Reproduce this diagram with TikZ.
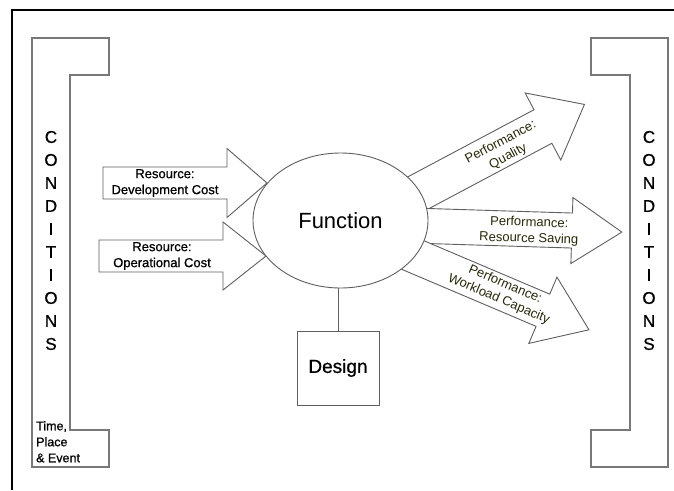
\documentclass[tikz,border=0pt]{standalone}
\usepackage{fontspec}
\setmainfont{Liberation Sans}
\newfontfamily\heavysans[FakeBold=0.8]{Liberation Sans}
\usetikzlibrary{shapes.geometric,calc}

\definecolor{edgegray}{RGB}{95,95,95}
\definecolor{bracketgray}{RGB}{120,120,120}
\definecolor{perftext}{RGB}{40,40,10}

% fat block arrow: tail point, angle, total length, head length, shaft half-width, head half-width
\newcommand{\fatarrow}[6]{%
  \begin{scope}[shift={#1}, rotate=#2]
    \draw[blockarrow] (0,-#5) -- ({#3-#4},-#5) -- ({#3-#4},-#6) -- (#3,0)
      -- ({#3-#4},#6) -- ({#3-#4},#5) -- (0,#5) -- cycle;
  \end{scope}}

\begin{document}
\begin{tikzpicture}[x=1pt,y=-1pt,
  blockarrow/.style={draw=edgegray, fill=white, line width=0.9pt, line join=miter},
  bracket/.style={draw=bracketgray, line width=1.3pt},
  label/.style={font=\heavysans\fontsize{13}{16}\selectfont, align=center, inner sep=0pt},
  perflabel/.style={font=\fontsize{13}{16}\selectfont, text=perftext, align=center, inner sep=0pt},
  vertword/.style={font=\heavysans\fontsize{17}{23}\selectfont, align=center, inner sep=0pt},
  funcnode/.style={ellipse, draw=edgegray, fill=white, line width=0.9pt,
    minimum width=175pt, minimum height=135pt, inner sep=0pt,
    font=\fontsize{22}{26}\selectfont},
  designbox/.style={rectangle, draw=edgegray, fill=white, line width=0.9pt,
    minimum width=82pt, minimum height=74pt, inner sep=0pt,
    font=\heavysans\fontsize{19}{22}\selectfont}]

\useasboundingbox[fill=white] (0,0) rectangle (674,490);

% outer frame
\draw[line width=2.5pt] (12,490) -- (12,10) -- (674,10);

% brackets
\draw[bracket] (32,38) -- (109,38) -- (109,75) -- (70,75) -- (70,430)
  -- (109,430) -- (109,467) -- (32,467) -- cycle;
\draw[bracket] (668,38) -- (591,38) -- (591,75) -- (630,75) -- (630,430)
  -- (591,430) -- (591,467) -- (668,467) -- cycle;

\node[vertword] (condleft) at (51,240.5) {C\\O\\N\\D\\I\\T\\I\\O\\N\\S};
\node[vertword] (condright) at (649,240.5) {C\\O\\N\\D\\I\\T\\I\\O\\N\\S};
\node[font=\heavysans\fontsize{12.5}{16}\selectfont, align=left, anchor=north west, inner sep=0pt]
  (tpe) at (36,421) {Time,\\Place\\\& Event};

% input arrows
\fatarrow{(103,183)}{0}{164}{40}{16}{34.5}
\fatarrow{(99,256)}{0}{167}{43}{16}{34}

% output arrows
\fatarrow{(384,211)}{28}{227}{47}{19}{38}
\fatarrow{(380,224.5)}{-1.8}{242}{50}{17.5}{33}
\fatarrow{(368,236)}{-23}{240}{50}{17.5}{36}

% central function and design
\node[funcnode] (func) at (340.5,220.5) {Function};
\node[designbox] (design) at (338,368) {Design};
\draw[draw=edgegray, line width=0.9pt] (design.north) -- (design.north |- func.south);

% arrow labels
\node[label] (devcost) at (165,183) {Resource:\\Development Cost};
\node[label] (opcost) at (162,256) {Resource:\\Operational Cost};
\node[perflabel, rotate=28] (quality) at (504.5,149.5) {Performance:\\Quality};
\node[perflabel, rotate=-1.8] (saving) at (529,231) {Performance:\\Resource Saving};
\node[perflabel, rotate=-23] (workload) at (502,292) {Performance:\\Workload Capacity};

\end{tikzpicture}
\end{document}
